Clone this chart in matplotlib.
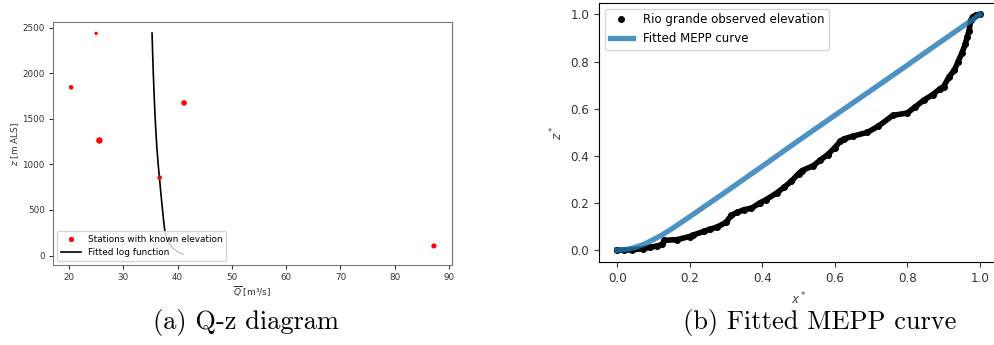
import matplotlib
matplotlib.use("Agg")
import matplotlib.pyplot as plt

# (a) stations with known elevation
station_q = [25.0, 20.4, 25.6, 41.2, 36.7, 87.2]
station_z = [2436, 1845, 1262, 1674, 855, 106]
station_size = [2, 5, 13, 9, 5, 7]

# fitted log function
fit_q = [35.3, 35.42, 35.53, 35.66, 35.8, 35.97, 36.17, 36.43, 36.66, 36.9, 37.15, 37.4,
         37.65, 37.95, 38.4, 39.0, 39.7, 40.4, 41.0]
fit_z = [2440, 2200, 2000, 1800, 1600, 1400, 1200, 1000, 855, 700, 550, 400,
         273, 200, 140, 90, 55, 30, 18]

# (b) Rio grande normalised profile
obs_x = [0, 0.02, 0.04, 0.07, 0.09, 0.11, 0.125, 0.13, 0.165, 0.2, 0.21, 0.24, 0.256,
         0.275, 0.3, 0.315, 0.33, 0.35, 0.37, 0.395, 0.41, 0.44, 0.46, 0.48, 0.5, 0.51,
         0.54, 0.56, 0.58, 0.6, 0.615, 0.625, 0.65, 0.69, 0.72, 0.76, 0.8, 0.82, 0.845,
         0.87, 0.89, 0.9, 0.915, 0.93, 0.94, 0.95, 0.96, 0.965, 0.97, 0.975, 0.98, 0.99, 1.0]
obs_z = [0, 0, 0.002, 0.006, 0.012, 0.018, 0.025, 0.042, 0.045, 0.058, 0.065, 0.08, 0.089,
         0.098, 0.118, 0.148, 0.16, 0.172, 0.178, 0.202, 0.214, 0.243, 0.267, 0.292, 0.325, 0.338,
         0.358, 0.382, 0.405, 0.435, 0.462, 0.472, 0.484, 0.5, 0.526, 0.572, 0.582, 0.606, 0.636,
         0.66, 0.685, 0.694, 0.735, 0.765, 0.8, 0.835, 0.875, 0.905, 0.93, 0.975, 0.99, 0.998, 1.0]

mepp_x = [0, 0.025, 0.05, 0.075, 0.1, 0.125, 0.15, 0.2, 0.3, 0.4, 0.5, 0.6, 0.7, 0.8, 0.9, 1.0]
mepp_z = [0, 0.003, 0.012, 0.026, 0.045, 0.066, 0.09, 0.142, 0.248, 0.356, 0.465, 0.572,
          0.678, 0.785, 0.893, 1.0]

fig = plt.figure(figsize=(9.94, 3.45), dpi=100)

# ---- (a) Q-z diagram
ax1 = fig.add_axes([53 / 994, 80 / 345, 399 / 994, 243 / 345])
ax1.plot(fit_q, fit_z, color="k", lw=1.2, label="Fitted log function")
ax1.scatter(station_q, station_z, s=station_size, color="red", zorder=3,
            label="Stations with known elevation")
ax1.set_xlim(17.06, 90.54)
ax1.set_ylim(-103, 2561)
ax1.set_xticks(range(20, 91, 10))
ax1.set_yticks(range(0, 2501, 500))
ax1.tick_params(labelsize=6.3, colors="#333333", length=3, pad=3)
for s in ax1.spines.values():
    s.set_color("#777777")
ax1.set_xlabel(r"$\overline{Q}$ [m³/s]", fontsize=6.5, color="#333333", labelpad=1.5)
ax1.set_ylabel(r"$z$ [m ALS]", fontsize=6.5, color="#333333", labelpad=1)
h, l = ax1.get_legend_handles_labels()
ax1.legend(h[::-1], l[::-1], loc="lower left", fontsize=6.4, handlelength=2.2)

# ---- (b) Fitted MEPP curve
ax2 = fig.add_axes([599 / 994, 83 / 345, 399 / 994, 259.3 / 345])
ax2.plot(obs_x, obs_z, color="k", lw=4)
ax2.plot(obs_x, obs_z, "o", color="k", ms=4, label="Rio grande observed elevation")
ax2.plot(mepp_x, mepp_z, color="#1f77b4", lw=3.8, alpha=0.8, label="Fitted MEPP curve")
ax2.set_xlim(-0.05, 1.05)
ax2.set_ylim(-0.05, 1.05)
ax2.set_xticks([0, 0.2, 0.4, 0.6, 0.8, 1.0])
ax2.set_yticks([0, 0.2, 0.4, 0.6, 0.8, 1.0])
ax2.tick_params(labelsize=8.6, colors="#333333")
ax2.set_xlabel(r"$x^*$", fontsize=8.6, color="#444444")
ax2.set_ylabel(r"$z^*$", fontsize=8.6, color="#444444")
ax2.legend(loc="upper left", fontsize=8.5)

fig.text(246 / 994, 1 - 323 / 345, "(a) Q-z diagram", fontfamily="cmr10",
         fontsize=19, ha="center", va="center")
fig.text(820 / 994, 1 - 323 / 345, "(b) Fitted MEPP curve", fontfamily="cmr10",
         fontsize=19, ha="center", va="center")

fig.savefig("out.png", dpi=100)
